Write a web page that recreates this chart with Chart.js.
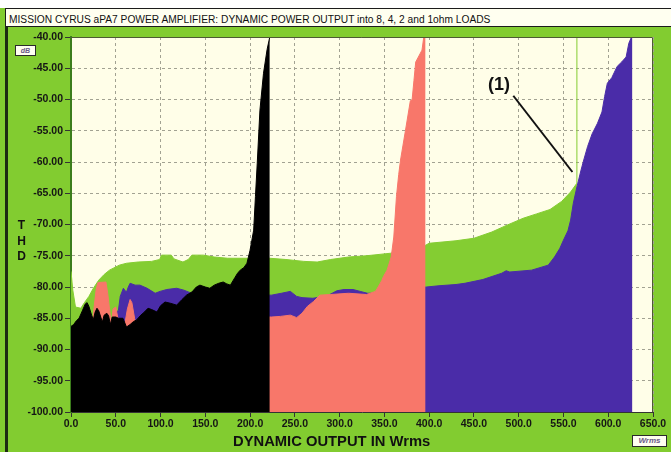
<!DOCTYPE html>
<html>
<head>
<meta charset="utf-8">
<script src="https://cdn.jsdelivr.net/npm/chart.js@4.4.1/dist/chart.umd.min.js"></script>
<style>
    html, body { margin: 0; padding: 0; background: #fff; }
    #wrap { position: relative; width: 671px; height: 452px; overflow: hidden; background: #82cc30; font-family: Arial, "Liberation Sans", sans-serif; }
    #strip { position: absolute; left: 0; top: 0; width: 671px; height: 8px; background: #fff; }
    #titleBox { position: absolute; left: 5px; top: 8px; width: 700px; height: 19px; box-sizing: border-box; background: #fffff0; border: 1px solid #1b1b1b; }
    #title { position: absolute; left: 9px; top: 14px; font-size: 10px; line-height: 11px; color: #111; white-space: nowrap; transform-origin: 0 0; }
    #leftLine { position: absolute; left: 5px; top: 27px; width: 3px; height: 430px; background: #1d2b12; }
    #chart { position: absolute; left: 0; top: 0; }
    #xTitle { position: absolute; left: 233px; top: 434px; font-size: 14px; line-height: 14px; font-weight: bold; color: #111; white-space: nowrap; transform-origin: 0 0; }
    #thd { position: absolute; left: 14px; top: 218px; width: 15px; font-size: 12px; line-height: 15.7px; font-weight: bold; color: #111; text-align: center; }
    .unit { position: absolute; box-sizing: border-box; background: #fffff0; border: 1px solid #2a2a2a; font-style: italic; font-weight: bold; color: #6a5a8a; text-align: center; }
    #dB { left: 15px; top: 45px; width: 21px; height: 11px; font-size: 7px; line-height: 9px; }
    #wrms { left: 632px; top: 435px; width: 35px; height: 12px; font-size: 8px; line-height: 10px; }
</style>
</head>
<body>
<div id="wrap">
    <div id="strip"></div>
    <div id="titleBox"></div>
    <div id="title">MISSION CYRUS aPA7 POWER AMPLIFIER: DYNAMIC POWER OUTPUT into 8, 4, 2 and 1ohm LOADS</div>
    <div id="leftLine"></div>
    <canvas id="chart" width="671" height="452"></canvas>
    <div id="thd">T<br>H<br>D</div>
    <div id="dB" class="unit">dB</div>
    <div id="xTitle">DYNAMIC OUTPUT IN Wrms</div>
    <div id="wrms" class="unit">Wrms</div>
</div>
<script>
    // 8 ohm (black)
    const w8 = [0, 3, 6, 9, 13, 16, 18, 20, 23, 25, 27, 29, 31, 35, 37, 40, 42, 44, 46, 50,
        53, 58, 62, 66, 70, 73, 78, 82, 86, 90, 96, 100, 105, 111, 118, 124, 129, 135, 140, 144,
        150, 155, 160, 165, 170, 174, 178, 183, 186, 189, 193, 196.5, 200, 202, 204, 206, 208, 211, 215, 219, 222];
    const thd8 = [-86.3, -86.0, -85.4, -85.0, -83.7, -82.7, -82.5, -83.1, -84.5, -85.2, -84.0, -83.4, -83.8, -85.6, -84.5, -84.2, -84.6, -86.0, -84.8, -84.8,
        -85.0, -85.0, -86.4, -86.0, -85.5, -85.3, -84.5, -84.0, -83.4, -83.6, -84.0, -83.0, -82.4, -82.6, -82.9, -82.0, -81.3, -80.8, -80.0, -79.7,
        -80.0, -80.2, -79.7, -79.4, -79.2, -79.5, -79.7, -78.5, -77.8, -77.3, -76.9, -76.2, -74.1, -72.5, -70.9, -65.5, -60.2, -51.7, -45.8, -42.0, -40.0];

    // 4 ohm (red)
    const w4 = [0, 24, 26, 28, 30, 39, 41, 43, 45, 47, 50, 53, 60, 63, 66, 68, 71, 74, 100, 150,
        200, 222, 224, 234, 245, 252, 258, 264, 271, 278, 290, 310, 330, 340, 343, 347, 349, 353, 357.6, 360.5,
        363.5, 366, 368, 373.6, 379, 381, 383, 385, 392, 394, 396];
    const thd4 = [-87.5, -86, -83, -80.5, -79.3, -79.2, -81, -83.5, -86, -83.5, -83.2, -85.5, -86, -83.5, -82, -82.5, -85, -87, -86.5, -85.5,
        -84.5, -84.8, -84.8, -84.7, -84.5, -84.9, -84.2, -83.1, -82.3, -81.3, -81.2, -81.0, -81.2, -80.7, -80.0, -79.0, -78.3, -77.3, -75.2, -72.0,
        -65.5, -62, -59.7, -54.9, -50.2, -50.0, -47, -44.0, -42.1, -40, -40];

    // 2 ohm (green)
    const w2 = [0, 2, 5, 11, 15, 20, 25, 31, 37, 43, 54, 62, 75, 90, 99, 101, 112, 115, 125, 131,
        135, 148, 160, 175, 200, 222, 240, 260, 275, 290, 310, 330, 350, 370, 390, 400, 430, 450, 470, 487,
        505, 520, 535, 548, 558, 565, 565];
    const thd2 = [-77.5, -80.5, -83.2, -83.4, -82.5, -81.5, -80.2, -78.9, -78.0, -77.3, -76.5, -76.2, -76.0, -75.9, -75.6, -74.9, -74.9, -75.5, -76.0, -75.6,
        -74.9, -74.9, -75.2, -75.4, -75.4, -75.4, -75.6, -75.9, -76.0, -75.6, -75.2, -75.0, -74.7, -74.4, -73.8, -73.0, -72.6, -72.2, -71.2, -70.1,
        -69.0, -68.3, -67.6, -66.3, -64.8, -63.4, -40];

    // 1 ohm (purple)
    const w1 = [0, 50, 51, 53, 55, 58.5, 60, 62, 64, 66, 71.6, 77, 85, 94, 99.5, 107, 118, 126, 133, 160,
        200, 222, 224, 235, 245, 252, 258, 270, 285, 297, 305, 315, 323, 331, 345, 370, 397, 411, 430, 440,
        460, 481, 486, 490, 514.5, 533, 540, 546, 550, 555, 558, 561, 565, 569.6, 573, 577, 582, 588, 593, 596,
        599, 604, 610, 615, 620, 623, 626, 627];
    const thd1 = [-90, -86, -84, -83.7, -81.5, -80.2, -80.5, -80.8, -80, -79.4, -79.7, -79.7, -80.2, -81, -80.7, -80.4, -80.2, -80.5, -80.9, -81.5,
        -81.5, -81.3, -81.3, -81.0, -80.7, -81.5, -81.7, -81.8, -81.5, -80.6, -80.4, -80.4, -80.7, -81, -81, -80.5, -80, -79.8, -79.6, -79.4,
        -78.8, -77.8, -77.4, -77.6, -77.3, -76.5, -75.2, -73.8, -72.5, -71, -69.3, -66.6, -64, -61.3, -59.5, -57.5, -55.5, -53.8, -52, -49.5,
        -47.4, -46.5, -44.7, -44, -43.2, -41, -40, -40];

    const noteText = '(1)';
    const notePos = [478, -47.7];
    const noteFrom = [494, -49.4];
    const noteTo = [560, -61.6];

    const pts = (xs, ys) => xs.map((x, i) => ({ x: x, y: ys[i] }));

    function series(label, xs, ys, color) {
        return {
            label: label,
            data: pts(xs, ys),
            borderColor: color,
            backgroundColor: color,
            borderWidth: 1,
            pointRadius: 0,
            tension: 0,
            fill: 'start'
        };
    }

    const tickFont = { family: 'Arial, "Liberation Sans", sans-serif', size: 10.5, weight: 'bold' };

    const plotFrame = {
        id: 'plotFrame',
        beforeDraw(chart) {
            const { ctx, chartArea: a } = chart;
            ctx.save();
            ctx.fillStyle = '#fffee8';
            ctx.fillRect(a.left, a.top, a.right - a.left, a.bottom - a.top);
            ctx.restore();
        },
        afterDraw(chart) {
            const { ctx, chartArea: a, scales } = chart;
            ctx.save();
            ctx.strokeStyle = '#4d5a34';
            ctx.lineWidth = 1;
            ctx.beginPath();
            ctx.moveTo(a.left, a.top + 0.5);
            ctx.lineTo(a.right - 0.5, a.top + 0.5);
            ctx.lineTo(a.right - 0.5, a.bottom);
            ctx.stroke();

            // note (1) with its pointer line
            ctx.fillStyle = '#111';
            ctx.font = 'bold 18px Arial, "Liberation Sans", sans-serif';
            ctx.textAlign = 'center';
            ctx.textBaseline = 'middle';
            ctx.fillText(noteText, scales.x.getPixelForValue(notePos[0]), scales.y.getPixelForValue(notePos[1]));
            ctx.strokeStyle = '#111';
            ctx.lineWidth = 2;
            ctx.beginPath();
            ctx.moveTo(scales.x.getPixelForValue(noteFrom[0]), scales.y.getPixelForValue(noteFrom[1]));
            ctx.lineTo(scales.x.getPixelForValue(noteTo[0]), scales.y.getPixelForValue(noteTo[1]));
            ctx.stroke();
            ctx.restore();
        }
    };

    new Chart(document.getElementById('chart'), {
        type: 'line',
        data: {
            datasets: [
                series('8 ohm', w8, thd8, '#000000'),
                series('4 ohm', w4, thd4, '#f8776a'),
                series('1 ohm', w1, thd1, '#4a2ca8'),
                series('2 ohm', w2, thd2, '#84cd32')
            ]
        },
        options: {
            responsive: false,
            maintainAspectRatio: false,
            devicePixelRatio: 1,
            animation: false,
            layout: { padding: { left: 0, right: 18, top: 37, bottom: 0 } },
            plugins: {
                legend: { display: false },
                tooltip: { enabled: false },
                title: { display: false }
            },
            scales: {
                x: {
                    type: 'linear',
                    min: 0,
                    max: 650,
                    afterFit(s) { s.height = 40; },
                    ticks: {
                        stepSize: 50,
                        autoSkip: false,
                        maxRotation: 0,
                        padding: 1,
                        color: '#151515',
                        font: tickFont,
                        callback: v => v.toFixed(1)
                    },
                    grid: { color: '#a2a292', tickColor: '#333', tickLength: 5, lineWidth: 1 },
                    border: { display: true, color: '#333', width: 1, dash: [3, 3] }
                },
                y: {
                    type: 'linear',
                    min: -100,
                    max: -40,
                    afterFit(s) { s.width = 71; },
                    ticks: {
                        stepSize: 5,
                        padding: 2,
                        color: '#151515',
                        font: tickFont,
                        callback: v => v.toFixed(2)
                    },
                    grid: { color: '#a2a292', tickColor: '#333', tickLength: 6, lineWidth: 1 },
                    border: { display: true, color: '#3c7d1c', width: 2, dash: [3, 3] }
                }
            }
        },
        plugins: [plotFrame]
    });

    // squeeze the narrow-looking texts to the widths seen in the picture
    function fitWidth(id, target) {
        const el = document.getElementById(id);
        const k = target / el.scrollWidth;
        el.style.transform = 'scaleX(' + k + ')';
    }
    fitWidth('title', 481);
    fitWidth('xTitle', 197);
</script>
</body>
</html>
